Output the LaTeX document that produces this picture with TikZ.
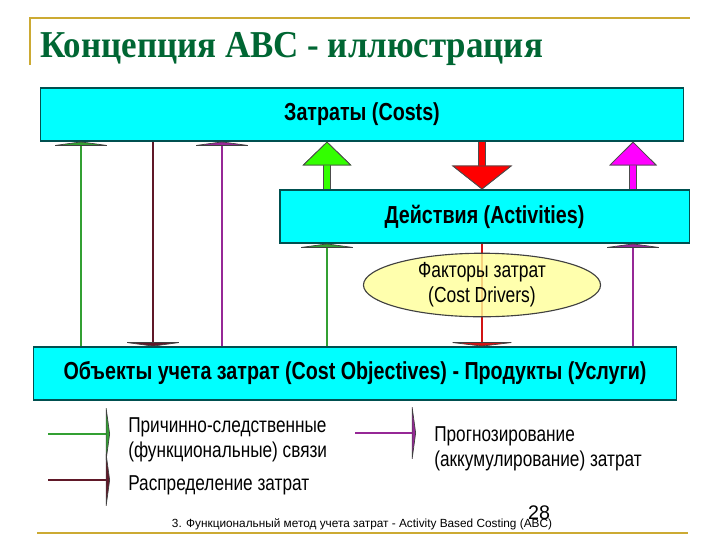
\documentclass[tikz,border=0pt]{standalone}
\usepackage{fontspec}
\setmainfont{Liberation Sans}
\newfontfamily\narrowfont[FakeStretch=0.8]{Liberation Sans}
\newfontfamily\titlefont[FakeStretch=0.92]{Liberation Serif}
\usetikzlibrary{positioning, arrows.meta, shapes.geometric}
\definecolor{boxcyan}{RGB}{0,255,255}
\definecolor{boxline}{RGB}{0,80,80}
\definecolor{framegold}{RGB}{204,170,51}
\definecolor{titlegreen}{RGB}{0,102,51}
\definecolor{linkgreen}{RGB}{51,160,51}
\definecolor{linkmaroon}{RGB}{96,24,40}
\definecolor{linkviolet}{RGB}{150,40,150}
\definecolor{linkred}{RGB}{210,20,20}
\definecolor{brgreen}{RGB}{51,255,0}
\definecolor{brred}{RGB}{255,0,0}
\definecolor{brmagenta}{RGB}{255,0,255}
\definecolor{drvfill}{RGB}{255,255,153}

\begin{document}
\begin{tikzpicture}[x=0.025cm, y=-0.025cm,
      box/.style={draw=boxline, fill=boxcyan, line width=0.8pt, minimum height=1.325cm,
                  inner sep=0pt, font=\narrowfont\bfseries\fontsize{17.5}{20}\selectfont},
      driver/.style={ellipse, draw=black!75, line width=0.8pt, fill=drvfill, fill opacity=0.8,
                  text opacity=1, minimum width=5.925cm, minimum height=1.5cm, inner sep=0pt,
                  align=center, font=\narrowfont\fontsize{15.5}{18}\selectfont},
      legend/.style={anchor=west, align=left, inner sep=0pt,
                  font=\narrowfont\fontsize{15.3}{18}\selectfont},
      link/.style={line width=1.8pt, #1,
                  -{Triangle[length=3pt, width=44pt, color=black!75, fill=#1, line width=0.5pt]}},
      bigarr/.style={line width=4.3pt, #1, preaction={draw=black!70, line width=5.8pt}},
      goldline/.style={framegold, line width=1.5pt},
   ]
   \useasboundingbox (0,0) rectangle (720,540);

   % title and frame
   \draw[goldline] (30,65) -- (30,18) -- (690,18);
   \node[anchor=base west, inner sep=0pt, text=titlegreen,
         font=\titlefont\bfseries\fontsize{27}{32}\selectfont] (title) at (40,57)
         {Концепция ABC - иллюстрация};

   % boxes
   \node[box, minimum width=16.05cm] (costs) at (362,114.5) {Затраты (Costs)};
   \node[box, minimum width=10.225cm] (acts) at (484.5,216.5) {Действия (Activities)};
   \node[box, minimum width=16.05cm] (obj) at (355,373.5)
         {Объекты учета затрат (Cost Objectives) - Продукты (Услуги)};

   % x positions of the links
   \coordinate (c1) at (81,0);
   \coordinate (c2) at (153,0);
   \coordinate (c3) at (222,0);
   \coordinate (c4) at (327,0);
   \coordinate (c5) at (482,0);
   \coordinate (c6) at (633,0);

   % objects <-> costs
   \draw[link=linkgreen] (obj.north -| c1) -- (costs.south -| c1);
   \draw[link=linkmaroon] (costs.south -| c2) -- (obj.north -| c2);
   \draw[link=linkviolet] (obj.north -| c3) -- (costs.south -| c3);

   % activities <-> costs
   \draw[bigarr=brgreen, -{Triangle[length=17pt, width=35pt, fill=brgreen, color=black!70, line width=0.6pt]}]
         (acts.north -| c4) -- (costs.south -| c4);
   \draw[bigarr=brred, -{Triangle[length=17pt, width=43pt, fill=brred, color=black!70, line width=0.6pt]}]
         (costs.south -| c5) -- (acts.north -| c5);
   \draw[bigarr=brmagenta, -{Triangle[length=17pt, width=34pt, fill=brmagenta, color=black!70, line width=0.6pt]}]
         (acts.north -| c6) -- (costs.south -| c6);

   % objects <-> activities
   \draw[link=linkgreen] (obj.north -| c4) -- (acts.south -| c4);
   \draw[link=linkred, -{Triangle[length=3pt, width=50pt, color=black!75, fill=linkred, line width=0.5pt]}]
         (acts.south -| c5) -- (obj.north -| c5);
   \draw[link=linkviolet] (obj.north -| c6) -- (acts.south -| c6);

   \node[driver] (drv) at (482,285) {Факторы затрат\\(Cost Drivers)};

   % legend
   \coordinate (k1) at (48,434);
   \coordinate (k1e) at (110,434);
   \coordinate (k2) at (48,480);
   \coordinate (k2e) at (110,480);
   \coordinate (k3) at (355,433);
   \coordinate (k3e) at (416,433);
   \draw[link=linkgreen] (k1) -- (k1e);
   \draw[link=linkmaroon] (k2) -- (k2e);
   \draw[link=linkviolet] (k3) -- (k3e);
   \node[legend] (lg1) at (128,440) {Причинно-следственные\\(функциональные) связи};
   \node[legend] (lg2) at (128,485) {Распределение затрат};
   \node[legend] (lg3) at (434,449) {Прогнозирование\\(аккумулирование) затрат};

   % footer
   \draw[goldline] (37,533) -- (688,533);
   \node[inner sep=0pt, font=\fontsize{14}{16}\selectfont] (pg) at (539,513) {28};
   \node[inner sep=0pt, font=\fontsize{8.4}{10}\selectfont] (foot) at (362,524)
         {3. Функциональный метод учета затрат - Activity Based Costing (ABC)};
\end{tikzpicture}
\end{document}
